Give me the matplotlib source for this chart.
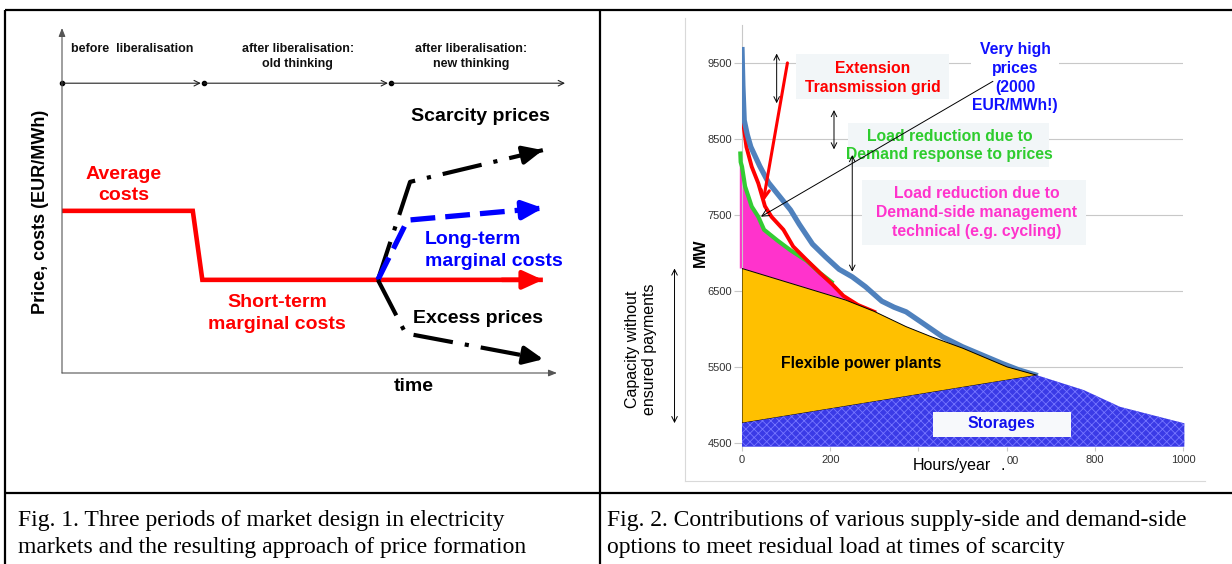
import numpy as np
import matplotlib.pyplot as plt
from matplotlib.patches import Rectangle

plt.rcParams['font.family'] = ['Liberation Sans', 'DejaVu Sans']
plt.rcParams['hatch.linewidth'] = 0.6

W, H = 1232, 564

# ---------------- Fig. 1 : schematic, time / price in arbitrary units (0..100)
avg_cost_t = [0, 26.0, 27.9, 95.6]
avg_cost_p = [47.0, 47.0, 27.0, 27.0]
scarcity_t = [62.8, 69.2, 95.6]
scarcity_p = [27.0, 55.4, 64.6]
lrmc_t = [62.8, 68.7, 95.6]
lrmc_p = [27.0, 44.3, 47.8]
excess_t = [62.8, 68.3, 95.7]
excess_p = [27.0, 11.5, 4.0]
period_start = [0, 28.2, 65.4]
period_end = [27.6, 64.8, 100]
period_labels = ['before  liberalisation',
                 'after liberalisation:\nold thinking',
                 'after liberalisation:\nnew thinking']

# ---------------- Fig. 2 : residual load duration curve (hours/year, MW)
hour_ticks = [0, 200, 400, 600, 800, 1000]
hour_labels = ['0', '200', '', '', '800', '1000']   # 400 / 600 hidden behind the axis title
mw_ticks = [4500, 5500, 6500, 7500, 8500, 9500]

blue_h = [0, 2, 5, 12, 20, 40, 60, 85, 110, 130, 160, 190, 220, 250, 280,
          317, 345, 372, 410, 455, 500, 545, 590, 628, 665]
blue_mw = [9680, 9200, 8750, 8560, 8400, 8150, 7930, 7750, 7570, 7380, 7120,
           6950, 6790, 6690, 6560, 6370, 6290, 6230, 6080, 5900, 5770, 5660,
           5550, 5465, 5400]

red_h = [0, 1, 4, 10, 22, 37, 52, 67, 94, 116, 147, 177, 205, 230, 263, 300]
red_mw = [9190, 8900, 8660, 8400, 8140, 7920, 7620, 7480, 7310, 7090, 6910,
          6740, 6590, 6440, 6320, 6230]

green_h = [-4, -3, 0, 7, 22, 37, 50, 80, 110, 147, 177, 207]
green_mw = [8340, 8200, 8140, 7880, 7615, 7480, 7310, 7170, 7040, 6900, 6740, 6605]

pink_h = [-5, 0, 7, 22, 37, 50, 80, 110, 147, 177, 207, 230, 238, 0, -5]
pink_mw = [8180, 8120, 7860, 7600, 7465, 7295, 7155, 7025, 6885, 6725, 6590,
           6430, 6380, 6800, 6800]

flex_h = [0, 235, 300, 372, 428, 501, 601, 669, 0]
flex_mw = [6800, 6385, 6235, 6035, 5905, 5750, 5505, 5395, 4765]

stor_h = [0, 669, 775, 857, 1003, 1003, 0]
stor_mw = [4765, 5395, 5200, 4980, 4763, 4455, 4455]

captions = [["Fig. 1. Three periods of market design in electricity",
             "markets and the resulting approach of price formation"],
            ["Fig. 2. Contributions of various supply-side and demand-side",
             "options to meet residual load at times of scarcity"]]


def px_rect(x0, y0, x1, y1):
    return [x0 / W, 1 - y1 / H, (x1 - x0) / W, (y1 - y0) / H]


def arrow_line(ax, xs, ys, color, lw, ls, hl=1.2, hw=0.55):
    ax.plot(xs, ys, color=color, lw=lw, ls=ls, solid_capstyle='butt',
            dash_capstyle='butt', solid_joinstyle='miter')
    bx = xs[-1] - 0.12 * (xs[-1] - xs[-2])
    by = ys[-1] - 0.12 * (ys[-1] - ys[-2])
    ax.annotate('', xy=(xs[-1], ys[-1]), xytext=(bx, by), annotation_clip=False,
                arrowprops=dict(arrowstyle='-|>,head_length=%g,head_width=%g' % (hl, hw),
                                color=color, lw=lw, shrinkA=0, shrinkB=0,
                                mutation_scale=10))


fig = plt.figure(figsize=(W / 100, H / 100), dpi=100)

bg = fig.add_axes([0, 0, 1, 1])
bg.set_xlim(0, W)
bg.set_ylim(H, 0)
bg.axis('off')

# table borders
kw = dict(color='black', lw=1.6, solid_capstyle='butt')
bg.plot([5, W], [10, 10], **kw)
bg.plot([5, 5], [10, H], **kw)
bg.plot([600, 600], [10, H], **kw)
bg.plot([5, W], [493, 493], **kw)

# chart frame of Fig. 2
bg.plot([685, 685], [18, 481], color='#d9d9d9', lw=0.8)
bg.plot([685, 1205], [481, 481], color='#d9d9d9', lw=0.8)

for x, lines in zip([18, 607], captions):
    for i, line in enumerate(lines):
        bg.text(x, 526 + 27 * i, line, family=['Liberation Serif', 'DejaVu Serif'],
                fontsize=17, va='baseline', ha='left')

# ---------------- left panel
ax1 = fig.add_axes(px_rect(62, 28, 565, 373))
ax1.set_xlim(0, 100)
ax1.set_ylim(0, 100)
ax1.axis('off')

axis_kw = dict(arrowstyle='-|>,head_length=0.5,head_width=0.2', color='#555555',
               lw=0.8, shrinkA=0, shrinkB=0)
ax1.annotate('', xy=(0, 100), xytext=(0, 0), arrowprops=axis_kw, annotation_clip=False)
ax1.annotate('', xy=(98.4, 0), xytext=(0, 0), arrowprops=axis_kw, annotation_clip=False)

for a, b in zip(period_start, period_end):
    ax1.annotate('', xy=(b, 84), xytext=(a, 84), annotation_clip=False,
                 arrowprops=dict(arrowstyle='->,head_length=0.4,head_width=0.2',
                                 color='#222222', lw=0.8, shrinkA=0, shrinkB=0))
ax1.plot(period_start, [84] * 3, 'o', color='black', ms=3, clip_on=False)

for lab, x, y in zip(period_labels, [13.9, 46.9, 81.3], [93.9, 91.7, 91.7]):
    ax1.text(x, y, lab, ha='center', va='center', fontsize=9, fontweight='bold',
             color='#111111', linespacing=1.3)

arrow_line(ax1, avg_cost_t, avg_cost_p, 'red', 3.3, '-')
arrow_line(ax1, scarcity_t, scarcity_p, 'black', 3.0, (0, (9.6, 2.9, 1.0, 2.9)))
arrow_line(ax1, lrmc_t, lrmc_p, 'blue', 3.8, (0, (4.7, 1.9)))
arrow_line(ax1, excess_t, excess_p, 'black', 3.0, (0, (9.6, 2.9, 1.0, 2.9)))

big = dict(fontsize=14, fontweight='bold', va='center', linespacing=1.38)
ax1.text(12.2, 54.5, 'Average\ncosts', color='red', ha='center', **big)
ax1.text(42.8, 17.3, 'Short-term\nmarginal costs', color='red', ha='center', **big)
ax1.text(83.2, 74.3, 'Scarcity prices', color='black', ha='center', **big)
ax1.text(72.1, 35.5, 'Long-term\nmarginal costs', color='blue', ha='left', **big)
ax1.text(82.8, 15.8, 'Excess prices', color='black', ha='center', **big)
ax1.text(70, -4.0, 'time', color='black', ha='center', **big)
ax1.text(-4.2, 46.7, 'Price, costs (EUR/MWh)', rotation=90, ha='center', va='center',
         fontsize=13, fontweight='bold')

# ---------------- right panel
ax2 = fig.add_axes(px_rect(742, 25.3, 1183, 446.7))
ax2.set_xlim(0, 1000)
ax2.set_ylim(4455, 10000)
for s in ['top', 'right', 'bottom']:
    ax2.spines[s].set_visible(False)
ax2.spines['left'].set_color('#c8c8c8')
ax2.spines['left'].set_linewidth(0.8)
ax2.set_facecolor('none')
ax2.set_xticks(hour_ticks)
ax2.set_xticklabels(hour_labels)
ax2.set_yticks(mw_ticks)
ax2.set_axisbelow(True)
ax2.grid(axis='y', color='#c8c8c8', lw=0.8)
ax2.tick_params(axis='y', length=6, width=0.8, color='#c8c8c8', pad=1,
                labelsize=8, labelcolor='#333333')
ax2.tick_params(axis='x', length=3, width=0.8, color='#c8c8c8', pad=3,
                labelsize=8, labelcolor='#333333')

ax2.fill(pink_h, pink_mw, color='#ff33cc', lw=0, zorder=2, clip_on=False)
ax2.plot(green_h, green_mw, color='#33cc33', lw=3.0, zorder=3, clip_on=False,
         solid_capstyle='butt')
ax2.plot(red_h, red_mw, color='#ff0000', lw=2.8, zorder=3.1)
ax2.plot(blue_h, blue_mw, color='#4f81bd', lw=3.8, zorder=3.2)
ax2.fill(flex_h, flex_mw, facecolor='#ffc000', edgecolor='black', lw=0.7, zorder=4)
ax2.fill(stor_h, stor_mw, facecolor='#3a3ae6', edgecolor='#7676ff', hatch='xxxx',
         lw=0, zorder=4, clip_on=False)

box_c = '#f2f6f8'
ax2.add_patch(Rectangle((122, 9030), 347, 592, facecolor=box_c, edgecolor='none', zorder=5))
ax2.add_patch(Rectangle((240, 8139), 457, 579, facecolor=box_c, edgecolor='none', zorder=5))
ax2.add_patch(Rectangle((272, 7108), 507, 855, facecolor=box_c, edgecolor='none', zorder=5))
ax2.add_patch(Rectangle((432, 4579), 315, 337, facecolor='#f7f9fb', edgecolor='none', zorder=5))

lab = dict(fontsize=11.3, fontweight='bold', ha='center', va='center', linespacing=1.32, zorder=6)
ax2.text(296, 9309, 'Extension\nTransmission grid', color='#ff0000', **lab)
ax2.text(619, 9310, 'Very high\nprices\n(2000\nEUR/MWh!)', color='#1010ff',
         bbox=dict(facecolor='white', edgecolor='none', pad=1), **lab)
ax2.text(471, 8418, 'Load reduction due to\nDemand response to prices', color='#2ecc2e', **lab)
ax2.text(532, 7533, 'Load reduction due to\nDemand-side management\ntechnical (e.g. cycling)',
         color='#ff33cc', **lab)
ax2.text(270, 5553, 'Flexible power plants', color='black', **lab)
ax2.text(589, 4754, 'Storages', color='#1010ee', **lab)

thin = dict(color='black', lw=0.7, shrinkA=0, shrinkB=0)
ax2.annotate('', xy=(43, 7482), xytext=(569, 9263), annotation_clip=False, zorder=7,
             arrowprops=dict(arrowstyle='->,head_length=0.5,head_width=0.25', **thin))
for x, y0, y1 in [(78.6, 8974, 9628), (208.6, 8368, 8885), (250, 6758, 8293)]:
    ax2.annotate('', xy=(x, y1), xytext=(x, y0), annotation_clip=False, zorder=7,
                 arrowprops=dict(arrowstyle='<->,head_length=0.4,head_width=0.2', **thin))
ax2.annotate('', xy=(48, 7679), xytext=(103, 9505), annotation_clip=False, zorder=7,
             arrowprops=dict(arrowstyle='->,head_length=0.6,head_width=0.3',
                             color='#ff0000', lw=2.2, shrinkA=0, shrinkB=0))
ax2.annotate('', xy=(-153, 6800), xytext=(-153, 4765), annotation_clip=False,
             arrowprops=dict(arrowstyle='<->,head_length=0.4,head_width=0.2', **thin))

ax2.text(-95, 7013, 'MW', rotation=90, fontsize=11.5, fontweight='bold',
         ha='center', va='center')
ax2.text(-229, 5741, 'Capacity without\nensured payments', rotation=90, fontsize=11.5,
         ha='center', va='center', linespacing=1.12)

# axis title; it covers the 400 label and the "6" of 600 in the source
ax2.text(913, 470, 'Hours/year', fontsize=11.5, ha='left', va='baseline',
         transform=bg.transData, zorder=11)
ax2.text(1000.5, 470, '.', fontsize=11.5, ha='left', va='baseline',
         transform=bg.transData, zorder=11)
ax2.text(1006.5, 461, '00', fontsize=8, color='#333333', ha='left', va='center',
         transform=bg.transData, zorder=11)

fig.savefig('out.png', dpi=100)
